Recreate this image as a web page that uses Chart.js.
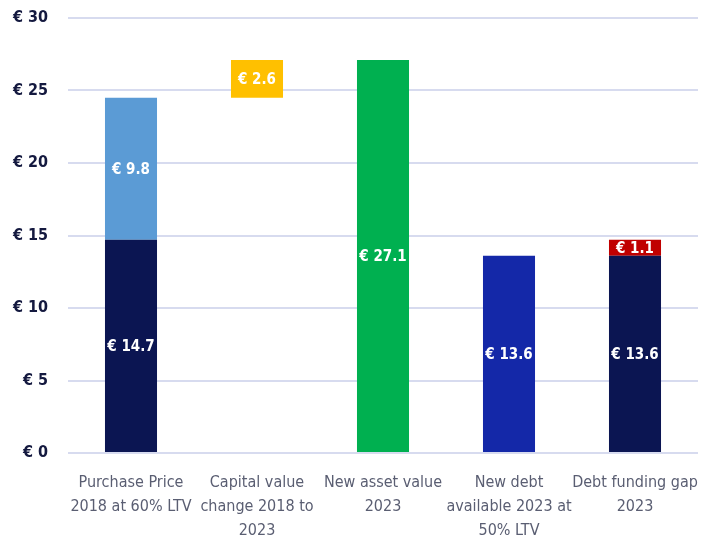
<!DOCTYPE html>
<html>
<head>
<meta charset="utf-8">
<script src="https://cdn.jsdelivr.net/npm/chart.js@4/dist/chart.umd.min.js"></script>
<style>
  html, body { margin: 0; padding: 0; background: #fff; }
  #wrap { width: 713px; height: 538px; position: relative; }
</style>
</head>
<body>
<div id="wrap"><canvas id="gap-chart"></canvas></div>
<script>
const categories = [
    ['Purchase Price', '2018 at 60% LTV'],
    ['Capital value', 'change 2018 to', '2023'],
    ['New asset value', '2023'],
    ['New debt', 'available 2023 at', '50% LTV'],
    ['Debt funding gap', '2023']
];
const existingDebt = [14.7, null, null, null, 13.6];
const equity = [9.8, null, null, null, null];
const valueChange = [null, 2.6, null, null, null];
const assetValue = [null, null, 27.1, null, null];
const newDebt = [null, null, null, 13.6, null];
const fundingGap = [null, null, null, null, 1.1];
const yTicks = [0, 5, 10, 15, 20, 25, 30];

const FONT = "'DejaVu Sans Condensed', 'Roboto', sans-serif";

// purchase price total is where the capital change starts
const purchaseTotal = existingDebt[0] + equity[0];

function ranges(values, bases) {
    return values.map((v, i) => v == null ? null : [bases[i], bases[i] + v]);
}

const datasets = [
    { label: 'Debt', values: existingDebt, data: ranges(existingDebt, [0, 0, 0, 0, 0]), backgroundColor: '#0b1552' },
    { label: 'Equity', values: equity, data: ranges(equity, existingDebt.map(v => v || 0)), backgroundColor: '#5b9bd5' },
    { label: 'Capital value change', values: valueChange, data: ranges(valueChange, [0, purchaseTotal, 0, 0, 0]), backgroundColor: '#ffc000' },
    { label: 'New asset value', values: assetValue, data: ranges(assetValue, [0, 0, 0, 0, 0]), backgroundColor: '#00b050' },
    { label: 'New debt', values: newDebt, data: ranges(newDebt, [0, 0, 0, 0, 0]), backgroundColor: '#1428a8' },
    { label: 'Funding gap', values: fundingGap, data: ranges(fundingGap, existingDebt.map(v => v || 0)), backgroundColor: '#c00000' }
];

// white value labels in the middle of each bar piece
const barLabels = {
    id: 'barLabels',
    afterDatasetsDraw(chart) {
        const ctx = chart.ctx;
        ctx.save();
        ctx.fillStyle = '#ffffff';
        ctx.font = 'bold 15px ' + FONT;
        ctx.textAlign = 'center';
        ctx.textBaseline = 'middle';
        chart.data.datasets.forEach((ds, di) => {
            const meta = chart.getDatasetMeta(di);
            meta.data.forEach((bar, i) => {
                const v = ds.values[i];
                if (v == null) return;
                const p = bar.getProps(['x', 'y', 'base'], true);
                ctx.fillText('€ ' + v.toFixed(1), p.x, (p.y + p.base) / 2 + 1);
            });
        });
        ctx.restore();
    }
};

const ctx = document.getElementById('gap-chart').getContext('2d');
new Chart(ctx, {
    type: 'bar',
    data: {
        labels: categories,
        datasets: datasets.map(d => ({
            label: d.label,
            values: d.values,
            data: d.data,
            backgroundColor: d.backgroundColor,
            barPercentage: 0.826,
            categoryPercentage: 0.5
        }))
    },
    plugins: [barLabels],
    options: {
        responsive: true,
        maintainAspectRatio: false,
        animation: false,
        layout: { padding: { top: 18, right: 15, left: 0, bottom: 0 } },
        scales: {
            x: {
                stacked: true,
                grid: { display: false, drawTicks: false },
                border: { display: false },
                afterFit(axis) {
                    axis.height = 85;
                    axis.paddingLeft = 0;
                    axis.paddingRight = 0;
                },
                ticks: {
                    color: '#5a5e72',
                    font: { family: FONT, size: 16, lineHeight: 1.5 },
                    padding: 18,
                    maxRotation: 0,
                    autoSkip: false
                }
            },
            y: {
                min: 0,
                max: 30,
                afterBuildTicks(axis) {
                    axis.ticks = yTicks.map(v => ({ value: v }));
                },
                afterFit(axis) {
                    axis.width = 68;
                    axis.paddingTop = 0;
                    axis.paddingBottom = 0;
                },
                grid: { color: '#d7dbef', lineWidth: 2, drawTicks: false },
                border: { display: false },
                ticks: {
                    color: '#14193f',
                    font: { family: FONT, size: 16, weight: 'bold' },
                    padding: 20,
                    callback: v => '€ ' + v
                }
            }
        },
        plugins: {
            legend: { display: false },
            tooltip: { enabled: false }
        }
    }
});
</script>
</body>
</html>
